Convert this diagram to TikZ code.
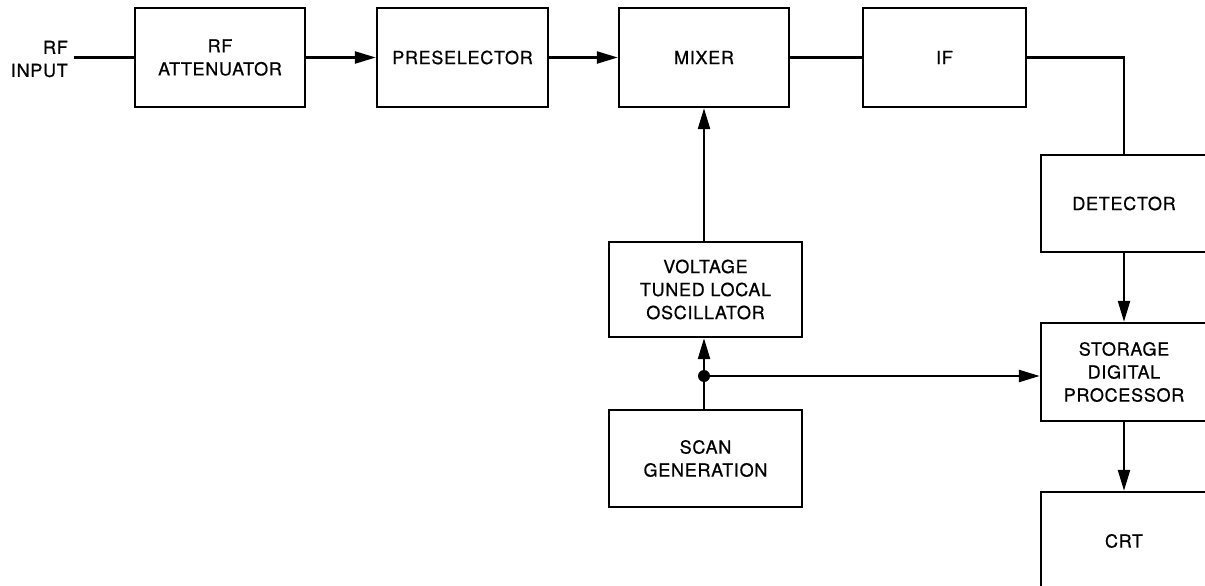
\documentclass[tikz,border=0pt]{standalone}
\usepackage{fontspec}
\setmainfont{TeX Gyre Heros}[LetterSpace=4, FakeBold=0.7]
\usetikzlibrary{arrows.meta}
\begin{document}
\begin{tikzpicture}[x=1pt,y=-1pt,
  every node/.style={font=\fontsize{18}{23}\selectfont},
  blk/.style={draw, line width=2.4pt, rectangle, inner sep=0pt, align=center},
  wire/.style={line width=2.4pt},
  arr/.style={line width=2.4pt, -{Triangle[length=21pt,width=12pt]}}]
\clip (0,0) rectangle (1205,586);
\node[blk, minimum width=170pt, minimum height=99pt] (att) at (220,57.5) {RF\\ATTENUATOR};
\node[blk, minimum width=171pt, minimum height=99pt] (pre) at (462.5,57.5) {PRESELECTOR};
\node[blk, minimum width=170pt, minimum height=99pt] (mix) at (704,57.5) {MIXER};
\node[blk, minimum width=163pt, minimum height=99pt] (if) at (944.5,57.5) {IF};
\node[blk, minimum width=166pt, minimum height=97pt] (det) at (1124,203.5) {DETECTOR};
\node[blk, minimum width=193pt, minimum height=95pt] (vtlo) at (705.5,289.5) {VOLTAGE\\TUNED LOCAL\\OSCILLATOR};
\node[blk, minimum width=193pt, minimum height=97pt] (scan) at (705.5,458.5) {SCAN\\GENERATION};
\node[blk, minimum width=166pt, minimum height=98pt] (stor) at (1124,372) {STORAGE\\DIGITAL\\PROCESSOR};
\node[blk, minimum width=166pt, minimum height=98pt] (crt) at (1124,541) {CRT};
\node[align=right, anchor=east, inner sep=0pt] (rfin) at (68,59) {RF\\INPUT};
\coordinate (in) at (74,57.5);
\coordinate (junc) at (704,376);
\coordinate (bend) at (1124,57.5);
\draw[wire] (in) -- (att.west);
\draw[arr] (att.east) -- (pre.west);
\draw[arr] (pre.east) -- (mix.west);
\draw[wire] (mix.east) -- (if.west);
\draw[wire] (if.east) -- (bend) -- (det.north);
\draw[arr] (det.south) -- (stor.north);
\draw[arr] (stor.south) -- (crt.north);
\draw[arr] (vtlo.north -| mix.south) -- (mix.south);
\draw[wire] (scan.north -| junc) -- (junc);
\draw[arr] (junc) -- (vtlo.south -| junc);
\draw[arr] (junc) -- (junc -| stor.west);
\fill (junc) circle (6pt);
\end{tikzpicture}
\end{document}
